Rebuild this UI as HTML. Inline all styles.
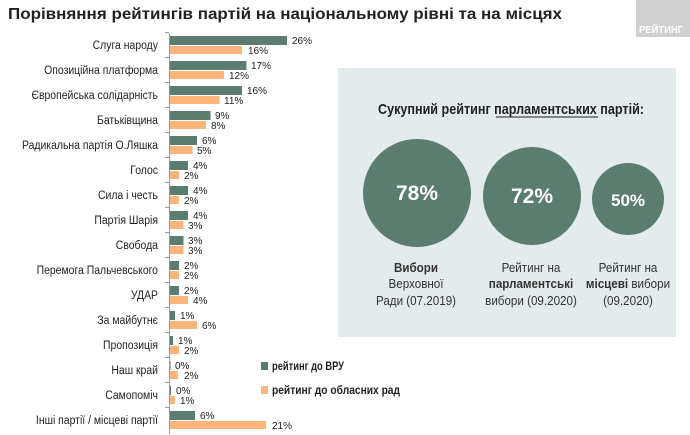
<!DOCTYPE html>
<html><head><meta charset="utf-8"><style>
html,body{margin:0;padding:0;background:#fff;width:690px;height:435px;overflow:hidden}
svg{display:block;font-family:"Liberation Sans","DejaVu Sans",sans-serif}
</style></head><body>
<svg width="690" height="435" viewBox="0 0 690 435" xmlns="http://www.w3.org/2000/svg">
<text x="8" y="19" font-size="15.5" font-weight="bold" fill="#222" textLength="554" lengthAdjust="spacingAndGlyphs">Порівняння рейтингів партій на національному рівні та на місцях</text>
<rect x="636" y="0" width="54" height="37" fill="#d0d0d0"/>
<text x="639" y="33" font-size="10" font-weight="bold" fill="#fff" textLength="44" lengthAdjust="spacingAndGlyphs">РЕЙТИНГ</text>
<rect x="338" y="68" width="338" height="269" fill="#e3ebec"/>
<text x="378" y="114" font-size="15" font-weight="bold" fill="#222" textLength="266" lengthAdjust="spacingAndGlyphs">Сукупний рейтинг парламентських партій:</text>
<line x1="496" y1="117" x2="598" y2="117" stroke="#222" stroke-width="1"/>
<circle cx="417" cy="193" r="54" fill="#5a7d70"/>
<circle cx="532" cy="196" r="49" fill="#5a7d70"/>
<circle cx="628" cy="199" r="36" fill="#5a7d70"/>
<text x="417" y="200" font-size="21" font-weight="bold" fill="#fff" text-anchor="middle">78%</text>
<text x="532" y="203" font-size="21" font-weight="bold" fill="#fff" text-anchor="middle">72%</text>
<text x="628" y="206" font-size="17" font-weight="bold" fill="#fff" text-anchor="middle">50%</text>
<g font-size="12.5" fill="#333" text-anchor="middle" transform="translate(0,0)">
<g transform="translate(416,0) scale(0.93,1) translate(-416,0)">
<text x="416" y="272" font-weight="bold">Вибори</text>
<text x="416" y="288">Верховної</text>
<text x="416" y="305">Ради (07.2019)</text>
</g>
<g transform="translate(531,0) scale(0.93,1) translate(-531,0)">
<text x="531" y="272">Рейтинг на</text>
<text x="531" y="288" font-weight="bold">парламентські</text>
<text x="531" y="305">вибори (09.2020)</text>
</g>
<g transform="translate(628,0) scale(0.93,1) translate(-628,0)">
<text x="628" y="272">Рейтинг на</text>
<text x="628" y="288"><tspan font-weight="bold">місцеві</tspan> вибори</text>
<text x="628" y="305">(09.2020)</text>
</g>
</g>
<line x1="169.5" y1="33" x2="169.5" y2="434" stroke="#999" stroke-width="1"/>
<rect x="261" y="362" width="7" height="8" fill="#5a7d70"/>
<text x="272" y="370" font-size="12" font-weight="bold" fill="#222" textLength="72" lengthAdjust="spacingAndGlyphs">рейтинг до ВРУ</text>
<rect x="261" y="386" width="7" height="8" fill="#fbb479"/>
<text x="272" y="394" font-size="12" font-weight="bold" fill="#222" textLength="128" lengthAdjust="spacingAndGlyphs">рейтинг до обласних рад</text>
<g font-size="12" fill="#222" text-anchor="end" transform="translate(158,0) scale(0.87,1) translate(-158,0)">
<text x="158" y="49">Слуга народу</text>
<text x="158" y="74">Опозиційна платформа</text>
<text x="158" y="99">Європейська солідарність</text>
<text x="158" y="124">Батьківщина</text>
<text x="158" y="149">Радикальна партія О.Ляшка</text>
<text x="158" y="174">Голос</text>
<text x="158" y="199">Сила і честь</text>
<text x="158" y="224">Партія Шарія</text>
<text x="158" y="249">Свобода</text>
<text x="158" y="274">Перемога Пальчевського</text>
<text x="158" y="299">УДАР</text>
<text x="158" y="324">За майбутнє</text>
<text x="158" y="349">Пропозиція</text>
<text x="158" y="374">Наш край</text>
<text x="158" y="399">Самопоміч</text>
<text x="158" y="424">Інші партії / місцеві партії</text>
</g>
<g fill="#999">
<rect x="165" y="32" width="4" height="1"/><rect x="165" y="57" width="4" height="1"/><rect x="165" y="82" width="4" height="1"/><rect x="165" y="107" width="4" height="1"/><rect x="165" y="132" width="4" height="1"/><rect x="165" y="157" width="4" height="1"/><rect x="165" y="182" width="4" height="1"/><rect x="165" y="207" width="4" height="1"/><rect x="165" y="232" width="4" height="1"/><rect x="165" y="257" width="4" height="1"/><rect x="165" y="282" width="4" height="1"/><rect x="165" y="307" width="4" height="1"/><rect x="165" y="332" width="4" height="1"/><rect x="165" y="357" width="4" height="1"/><rect x="165" y="382" width="4" height="1"/><rect x="165" y="407" width="4" height="1"/>
</g>
<g font-size="10" fill="#222">
<rect x="170" y="36" width="117" height="9" fill="#5a7d70"/><rect x="170" y="46" width="72" height="8" fill="#fbb479"/><text x="292" y="44">26%</text><text x="248" y="54">16%</text>
<rect x="170" y="61" width="76.5" height="9" fill="#5a7d70"/><rect x="170" y="71" width="54" height="8" fill="#fbb479"/><text x="251" y="69">17%</text><text x="229" y="79">12%</text>
<rect x="170" y="86" width="72" height="9" fill="#5a7d70"/><rect x="170" y="96" width="49.5" height="8" fill="#fbb479"/><text x="247" y="94">16%</text><text x="224" y="104">11%</text>
<rect x="170" y="111" width="40.5" height="9" fill="#5a7d70"/><rect x="170" y="121" width="36" height="8" fill="#fbb479"/><text x="215" y="119">9%</text><text x="211" y="129">8%</text>
<rect x="170" y="136" width="27" height="9" fill="#5a7d70"/><rect x="170" y="146" width="22.5" height="8" fill="#fbb479"/><text x="202" y="144">6%</text><text x="197" y="154">5%</text>
<rect x="170" y="161" width="18" height="9" fill="#5a7d70"/><rect x="170" y="171" width="9" height="8" fill="#fbb479"/><text x="193" y="169">4%</text><text x="184" y="179">2%</text>
<rect x="170" y="186" width="18" height="9" fill="#5a7d70"/><rect x="170" y="196" width="9" height="8" fill="#fbb479"/><text x="193" y="194">4%</text><text x="184" y="204">2%</text>
<rect x="170" y="211" width="18" height="9" fill="#5a7d70"/><rect x="170" y="221" width="13.5" height="8" fill="#fbb479"/><text x="193" y="219">4%</text><text x="188" y="229">3%</text>
<rect x="170" y="236" width="13.5" height="9" fill="#5a7d70"/><rect x="170" y="246" width="13.5" height="8" fill="#fbb479"/><text x="188" y="244">3%</text><text x="188" y="254">3%</text>
<rect x="170" y="261" width="9" height="9" fill="#5a7d70"/><rect x="170" y="271" width="9" height="8" fill="#fbb479"/><text x="184" y="269">2%</text><text x="184" y="279">2%</text>
<rect x="170" y="286" width="9" height="9" fill="#5a7d70"/><rect x="170" y="296" width="18" height="8" fill="#fbb479"/><text x="184" y="294">2%</text><text x="193" y="304">4%</text>
<rect x="170" y="311" width="5" height="9" fill="#5a7d70"/><rect x="170" y="321" width="27" height="8" fill="#fbb479"/><text x="180" y="319">1%</text><text x="202" y="329">6%</text>
<rect x="170" y="336" width="3" height="9" fill="#5a7d70"/><rect x="170" y="346" width="9" height="8" fill="#fbb479"/><text x="178" y="344">1%</text><text x="184" y="354">2%</text>
<rect x="170" y="361" width="0.5" height="9" fill="#5a7d70"/><rect x="170" y="371" width="8" height="8" fill="#fbb479"/><text x="175" y="369">0%</text><text x="184" y="379">2%</text>
<rect x="170" y="386" width="1" height="9" fill="#5a7d70"/><rect x="170" y="396" width="5" height="8" fill="#fbb479"/><text x="176" y="394">0%</text><text x="180" y="404">1%</text>
<rect x="170" y="411" width="25" height="9" fill="#5a7d70"/><rect x="170" y="421" width="96" height="8" fill="#fbb479"/><text x="200" y="419">6%</text><text x="272" y="429">21%</text>
</g>
</svg>
</body></html>
